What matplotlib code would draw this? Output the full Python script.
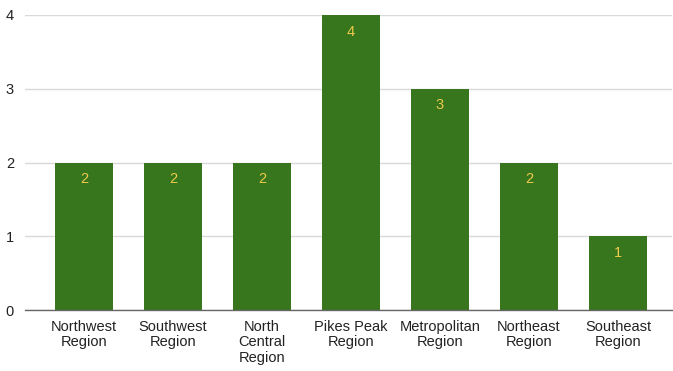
import matplotlib
matplotlib.use('Agg')
import matplotlib.pyplot as plt

# 数据
regions = ['Northwest\nRegion', 'Southwest\nRegion', 'North\nCentral\nRegion',
           'Pikes Peak\nRegion', 'Metropolitan\nRegion', 'Northeast\nRegion',
           'Southeast\nRegion']
counts = [2, 2, 2, 4, 3, 2, 1]

plt.rcParams['font.family'] = ['Liberation Sans', 'DejaVu Sans']

fig = plt.figure(figsize=(6.73, 3.71), dpi=100)
ax = fig.add_axes([25 / 673, 1 - 310 / 371, 647 / 673, 295 / 371])

x = range(len(regions))
bars = ax.bar(x, counts, width=0.65, color='#38761d', zorder=3)
for b, v in zip(bars, counts):
    ax.annotate(str(v), (b.get_x() + b.get_width() / 2, v), xytext=(0, -7),
                textcoords='offset points', ha='center', va='top',
                color='#ecc94b', fontsize=10.5, zorder=4)

ax.set_xlim(-0.663, 6.607)
ax.set_ylim(0, 4)
ax.set_yticks([0, 1, 2, 3, 4])
ax.set_xticks(list(x))
ax.set_xticklabels(regions, fontsize=10.5, color='#222222', linespacing=1.15)
ax.tick_params(axis='y', labelsize=10.5, labelcolor='#222222', length=0, pad=8)
ax.tick_params(axis='x', length=0, pad=7)
ax.yaxis.grid(True, color='#d9d9d9', linewidth=1, zorder=0)
for s in ['top', 'right', 'left']:
    ax.spines[s].set_visible(False)
ax.spines['bottom'].set_color('#666666')
ax.spines['bottom'].set_linewidth(1)
ax.spines['bottom'].set_zorder(5)

plt.savefig('out.png', dpi=100)
